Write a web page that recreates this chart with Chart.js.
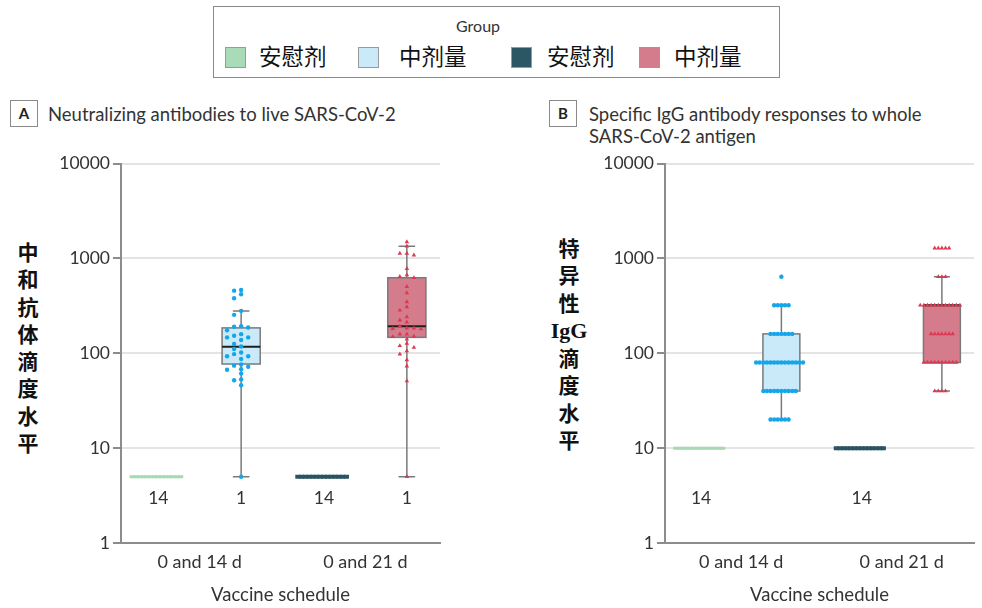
<!DOCTYPE html>
<html>
<head>
<meta charset="utf-8">
<script src="https://cdn.jsdelivr.net/npm/chart.js@4.4.0/dist/chart.umd.min.js"></script>
<style>
  body { margin: 0; width: 982px; height: 608px; position: relative; overflow: hidden; background: #fff; font-family: Lato, sans-serif; color: #333; }
  canvas { position: absolute; }
  .legend { position: absolute; left: 213px; top: 6px; width: 565px; height: 70px; border: 1.5px solid #8a8a8a; }
  .legend .head { position: absolute; left: 242px; top: 9px; font-size: 16px; color: #333; }
  .sw { position: absolute; top: 40px; width: 19px; height: 19px; border: 1.5px solid #9a9a9a; }
  .lt { position: absolute; top: 34px; font-family: "Noto Sans CJK SC", sans-serif; font-size: 22.5px; color: #111; line-height: 28px; }
  .ptitle { position: absolute; font-size: 18.5px; color: #333; line-height: 22px; }
  .tag { position: absolute; width: 26px; height: 25px; border: 1.5px solid #8a8a8a; font-weight: bold; font-size: 15px; text-align: center; line-height: 25px; color: #222; }
  .ylab { position: absolute; width: 40px; text-align: center; font-family: "Noto Sans CJK SC", sans-serif; font-weight: bold; font-size: 21px; line-height: 27.3px; color: #111; }
  .ylab .ig { font-family: "Liberation Serif", serif; font-size: 22px; }
</style>
</head>
<body>

<div class="legend">
  <div class="head">Group</div>
  <div class="sw" style="left:11px;background:#a9dbb8"></div><div class="lt" style="left:45px">安慰剂</div>
  <div class="sw" style="left:144px;background:#cae9f9"></div><div class="lt" style="left:185px">中剂量</div>
  <div class="sw" style="left:297px;background:#2b5664"></div><div class="lt" style="left:333px">安慰剂</div>
  <div class="sw" style="left:425px;background:#d47c8c"></div><div class="lt" style="left:460px">中剂量</div>
</div>

<div class="tag" style="left:10px;top:100px">A</div>
<div class="ptitle" style="left:48px;top:103px">Neutralizing antibodies to live SARS-CoV-2</div>
<div class="tag" style="left:549px;top:100px">B</div>
<div class="ptitle" style="left:589px;top:103px">Specific IgG antibody responses to whole<br>SARS-CoV-2 antigen</div>

<div class="ylab" style="left:8px;top:238px">中<br>和<br>抗<br>体<br>滴<br>度<br>水<br>平</div>
<div class="ylab" style="left:549px;top:234px">特<br>异<br>性<br><span class="ig">IgG</span><br>滴<br>度<br>水<br>平</div>

<canvas id="panelA" width="400" height="458" style="left:50px;top:150px"></canvas>
<canvas id="panelB" width="392" height="458" style="left:590px;top:150px"></canvas>

<script>
const categories = ['0 and 14 d', '0 and 21 d'];
const groupNames = ['安慰剂', '中剂量', '安慰剂', '中剂量'];
const groupCenters = [0.5, 1.5, 2.5, 3.5];
const categoryTicks = [1, 3];
const yTicks = [1, 10, 100, 1000, 10000];

// A - neutralizing antibody titres
const aPlacebo14 = [5, 5, 5, 5, 5, 5, 5, 5, 5, 5, 5, 5, 5, 5];
const aMid14 = [465, 457, 419, 380, 280, 254, 193, 190, 187, 175, 159, 153, 147, 147, 138, 125, 118, 111, 102, 98, 93, 93, 87, 76, 74, 72, 68, 67, 61, 53, 52, 46, 5];
const aPlacebo21 = [5, 5, 5, 5, 5, 5, 5, 5, 5, 5, 5, 5, 5, 5];
const aMid21 = [1492, 1343, 1127, 1127, 1082, 778, 667, 641, 625, 503, 433, 348, 308, 284, 242, 223, 213, 193, 184, 184, 182, 180, 159, 159, 151, 149, 141, 127, 120, 115, 106, 98, 85, 73, 51, 5];
const aLow = [5, 5, 5, 5];
const aQ1 = [5, 77, 5, 147];
const aMed = [5, 117, 5, 193];
const aQ3 = [5, 185, 5, 625];
const aHigh = [5, 279, 5, 1343];
const aCounts = ['14', '1', '14', '1'];

// B - specific IgG titres
const bPlacebo14 = [10, 10, 10, 10, 10, 10, 10, 10, 10, 10, 10, 10, 10, 10];
const bMid14 = [640, 320, 320, 320, 320, 320, 160, 160, 160, 160, 160, 160, 160,
  80, 80, 80, 80, 80, 80, 80, 80, 80, 80, 80, 80, 80, 80,
  40, 40, 40, 40, 40, 40, 40, 40, 40, 40, 20, 20, 20, 20, 20, 20];
const bPlacebo21 = [10, 10, 10, 10, 10, 10, 10, 10, 10, 10, 10, 10, 10, 10];
const bMid21 = [1280, 1280, 1280, 1280, 1280, 640, 640, 640,
  320, 320, 320, 320, 320, 320, 320, 320, 320, 320, 320, 320,
  160, 160, 160, 160, 160, 160, 160, 80, 80, 80, 80, 80, 80, 80, 80, 80, 80, 40, 40, 40, 40];
const bLow = [10, 20, 10, 40];
const bQ1 = [10, 40, 10, 80];
const bMed = [10, 80, 10, 320];
const bQ3 = [10, 160, 10, 320];
const bHigh = [10, 320, 10, 640];
const bCounts = ['14', '', '14', ''];

const pointColors = ['#a6dab4', '#14a6ea', '#2a5462', '#dc3852'];
const boxColors = ['#a9dbb8', '#cae9f9', '#2b5664', '#d47c8c'];
const pointStyles = ['line', 'circle', 'line', 'triangle'];
const pointSizes = [2.6, 2.2, 2.6, 2.6];
const pointBorders = [3, 0, 4, 0];
const boxWidth = 0.46;
const capWidth = 0.2;

// place equal / close values side by side so they do not overlap
function swarm(values, center, step, gap) {
  const placed = [];
  return values.map(v => {
    const ly = Math.log10(v);
    let k = 0;
    for (let i = 0; ; i++) {
      k = i === 0 ? 0 : (i % 2 ? -Math.ceil(i / 2) : i / 2);
      if (!placed.some(p => p.k === k && Math.abs(p.ly - ly) < gap)) break;
    }
    placed.push({ k, ly });
    return { x: center + k * step, y: v };
  });
}

function boxPlugin(low, q1, med, q3, high, counts) {
  return {
    id: 'boxes',
    beforeDatasetsDraw(chart) {
      const { ctx, scales: { x, y } } = chart;
      const half = (x.getPixelForValue(boxWidth) - x.getPixelForValue(0)) / 2;
      const capHalf = (x.getPixelForValue(capWidth) - x.getPixelForValue(0)) / 2;
      ctx.save();
      low.forEach((lo, i) => {
        if (lo === high[i]) return;
        const cx = x.getPixelForValue(groupCenters[i]);
        const yLo = y.getPixelForValue(lo), yHi = y.getPixelForValue(high[i]);
        const y1 = y.getPixelForValue(q1[i]), y3 = y.getPixelForValue(q3[i]);
        const ym = y.getPixelForValue(med[i]);
        ctx.strokeStyle = '#7a7a7a';
        ctx.lineWidth = 1.5;
        ctx.beginPath();
        ctx.moveTo(cx, yLo); ctx.lineTo(cx, y1);
        ctx.moveTo(cx, y3); ctx.lineTo(cx, yHi);
        ctx.moveTo(cx - capHalf, yLo); ctx.lineTo(cx + capHalf, yLo);
        ctx.moveTo(cx - capHalf, yHi); ctx.lineTo(cx + capHalf, yHi);
        ctx.stroke();
        ctx.fillStyle = boxColors[i];
        ctx.fillRect(cx - half, y3, half * 2, y1 - y3);
        ctx.strokeRect(cx - half, y3, half * 2, y1 - y3);
        ctx.strokeStyle = '#1e1e1e';
        ctx.lineWidth = 2;
        ctx.beginPath();
        ctx.moveTo(cx - half, ym); ctx.lineTo(cx + half, ym);
        ctx.stroke();
      });
      ctx.restore();
    },
    afterDraw(chart) {
      const { ctx, scales: { x, y } } = chart;
      ctx.save();
      ctx.font = '17.5px Lato';
      ctx.fillStyle = '#333';
      ctx.textAlign = 'center';
      ctx.textBaseline = 'middle';
      counts.forEach((c, i) => {
        ctx.fillText(c, x.getPixelForValue(groupCenters[i]), y.bottom - 45);
      });
      ctx.restore();
    }
  };
}

function makePanel(id, series, steps, gap, stats, counts, yWidth, rightPad) {
  const datasets = series.map((vals, i) => ({
    label: groupNames[i],
    data: swarm(vals, groupCenters[i], steps[i], gap),
    pointStyle: pointStyles[i],
    pointRadius: pointSizes[i],
    pointBackgroundColor: pointColors[i],
    pointBorderColor: pointColors[i],
    pointBorderWidth: pointBorders[i],
    showLine: false
  }));
  new Chart(document.getElementById(id), {
    type: 'scatter',
    data: { datasets },
    plugins: [boxPlugin(...stats, counts)],
    options: {
      responsive: false,
      animation: false,
      events: [],
      layout: { padding: { top: 12, right: rightPad, left: 0, bottom: 0 } },
      plugins: { legend: { display: false }, tooltip: { enabled: false } },
      scales: {
        x: {
          type: 'linear',
          min: 0.05,
          max: 3.9,
          afterBuildTicks: s => { s.ticks = categoryTicks.map(v => ({ value: v })); },
          afterFit: s => { s.height = 65; },
          ticks: {
            callback: (v, i) => categories[i],
            color: '#333',
            font: { family: 'Lato', size: 18 },
            padding: 8,
            maxRotation: 0,
            autoSkip: false
          },
          grid: { display: false, drawTicks: false },
          border: { color: '#8c8c8c', width: 2 },
          title: {
            display: true,
            text: 'Vaccine schedule',
            color: '#333',
            font: { family: 'Lato', size: 18.5 },
            padding: { top: 4, bottom: 2 }
          }
        },
        y: {
          type: 'logarithmic',
          min: 1,
          max: 10000,
          afterBuildTicks: s => { s.ticks = yTicks.map(v => ({ value: v })); },
          afterFit: s => { s.width = yWidth; },
          ticks: {
            callback: v => String(v),
            color: '#333',
            font: { family: 'Lato', size: 17.5 },
            padding: 3
          },
          grid: {
            color: c => c.tick && c.tick.value === 1 ? 'rgba(0,0,0,0)' : '#e4e4e4',
            lineWidth: 2,
            tickColor: '#8c8c8c',
            tickLength: 8
          },
          border: { color: '#8c8c8c', width: 2 }
        }
      }
    }
  });
}

makePanel('panelA', [aPlacebo14, aMid14, aPlacebo21, aMid21], [0.045, 0.085, 0.045, 0.085], 0.045,
  [aLow, aQ1, aMed, aQ3, aHigh], aCounts, 71, 10);
makePanel('panelB', [bPlacebo14, bMid14, bPlacebo21, bMid21], [0.045, 0.045, 0.045, 0.045], 0.01,
  [bLow, bQ1, bMed, bQ3, bHigh], bCounts, 75, 0);
</script>
</body>
</html>
